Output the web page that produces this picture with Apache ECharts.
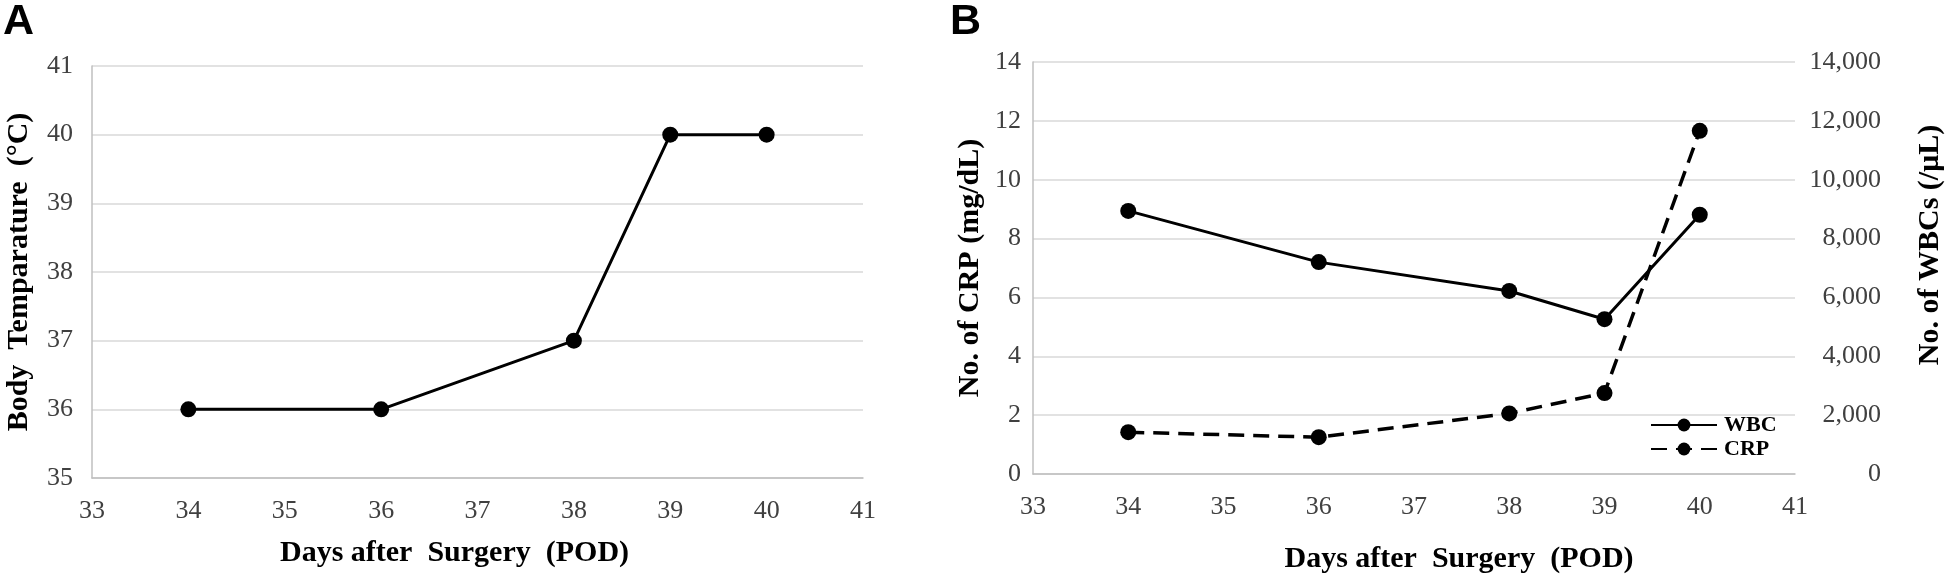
<!DOCTYPE html>
<html><head><meta charset="utf-8">
<script src="https://cdn.jsdelivr.net/npm/echarts@6/dist/echarts.min.js"></script>
<style>html,body{margin:0;padding:0;background:#fff}#c{width:1946px;height:579px}</style>
</head><body><div id="c"></div>
<script>
// Data
const days = [34, 36, 38, 39, 40];            // POD
const bodyTemp = [36, 36, 37, 40, 40];        // °C (panel A)
const wbc = [8940, 7200, 6220, 5260, 8810];   // /µL (panel B, right axis)
const crp = [1.42, 1.25, 2.06, 2.75, 11.66];  // mg/dL (panel B, left axis)
const seriesNames = ['WBC', 'CRP'];

const SERIF = 'Liberation Serif';
const tickStyle = { fontFamily: SERIF, fontSize: 26, color: '#404040' };
const titleStyle = { fontFamily: SERIF, fontSize: 30, fontWeight: 'bold', color: '#000' };
const axisLineStyle = { show: true, lineStyle: { color: '#bfbfbf', width: 1.5 } };
const gridLineStyle = { show: true, lineStyle: { color: '#d9d9d9', width: 1.5 } };

const pairs = (xs, ys) => xs.map((x, i) => [x, ys[i]]);

const chart = echarts.init(document.getElementById('c'), null, { renderer: 'canvas' });
chart.setOption({
  animation: false,
  backgroundColor: '#fff',
  graphic: [
    { type: 'text', left: 3, top: 1, style: { text: 'A', font: 'bold 43px "Liberation Sans"', fill: '#000' } },
    { type: 'text', left: 950, top: 1, style: { text: 'B', font: 'bold 43px "Liberation Sans"', fill: '#000' } }
  ],
  grid: [
    { left: 92, top: 66, width: 771, height: 412 },
    { left: 1033, top: 62, width: 762, height: 416 }
  ],
  legend: {
    data: seriesNames,
    orient: 'vertical',
    left: 1645, top: 409,
    itemWidth: 66, itemHeight: 16, itemGap: 2,
    textStyle: { fontFamily: SERIF, fontSize: 22, fontWeight: 'bold', color: '#000', padding: [0, 0, 0, 2] }
  },
  xAxis: [
    {
      gridIndex: 0, type: 'value', min: 33, max: 41, interval: 1,
      axisLine: axisLineStyle, axisTick: { show: false }, splitLine: { show: false },
      axisLabel: Object.assign({ margin: 20 }, tickStyle),
      name: 'Days after  Surgery  (POD)', nameLocation: 'middle', nameGap: 60,
      nameTextStyle: Object.assign({ padding: [0, 46, 0, 0] }, titleStyle)
    },
    {
      gridIndex: 1, type: 'value', min: 33, max: 41, interval: 1,
      axisLine: axisLineStyle, axisTick: { show: false }, splitLine: { show: false },
      axisLabel: Object.assign({ margin: 20 }, tickStyle),
      name: 'Days after  Surgery  (POD)', nameLocation: 'middle', nameGap: 70,
      nameTextStyle: Object.assign({ padding: [0, 0, 0, 90] }, titleStyle)
    }
  ],
  yAxis: [
    {
      gridIndex: 0, type: 'value', min: 35, max: 41, interval: 1,
      axisLine: axisLineStyle, axisTick: { show: false }, splitLine: gridLineStyle,
      axisLabel: Object.assign({ margin: 19 }, tickStyle),
      name: 'Body  Temparature  (°C)', nameLocation: 'middle', nameRotate: 90, nameGap: 58,
      nameTextStyle: titleStyle
    },
    {
      gridIndex: 1, type: 'value', min: 0, max: 14, interval: 2, position: 'left',
      axisLine: axisLineStyle, axisTick: { show: false }, splitLine: gridLineStyle,
      axisLabel: Object.assign({ margin: 12 }, tickStyle),
      name: 'No. of CRP (mg/dL)', nameLocation: 'middle', nameRotate: 90, nameGap: 48,
      nameTextStyle: titleStyle
    },
    {
      gridIndex: 1, type: 'value', min: 0, max: 14000, interval: 2000, position: 'right',
      axisLine: { show: false }, axisTick: { show: false }, splitLine: { show: false },
      axisLabel: Object.assign({ margin: 86, align: 'right',
        formatter: v => v.toLocaleString('en-US') }, tickStyle),
      name: 'No. of WBCs (/μL)', nameLocation: 'middle', nameRotate: 90, nameGap: 120,
      nameTextStyle: Object.assign({ padding: [0, 0, 0, 46] }, titleStyle)
    }
  ],
  series: [
    {
      type: 'line', xAxisIndex: 0, yAxisIndex: 0, data: pairs(days, bodyTemp),
      symbol: 'circle', symbolSize: 16,
      lineStyle: { color: '#000', width: 3 }, itemStyle: { color: '#000' }
    },
    {
      name: 'WBC', type: 'line', xAxisIndex: 1, yAxisIndex: 2, data: pairs(days, wbc),
      symbol: 'circle', symbolSize: 16,
      lineStyle: { color: '#000', width: 3 }, itemStyle: { color: '#000' }
    },
    {
      name: 'CRP', type: 'line', xAxisIndex: 1, yAxisIndex: 1, data: pairs(days, crp),
      symbol: 'circle', symbolSize: 16,
      lineStyle: { color: '#000', width: 3.5, type: [16, 9] }, itemStyle: { color: '#000' }
    }
  ]
});
</script></body></html>
